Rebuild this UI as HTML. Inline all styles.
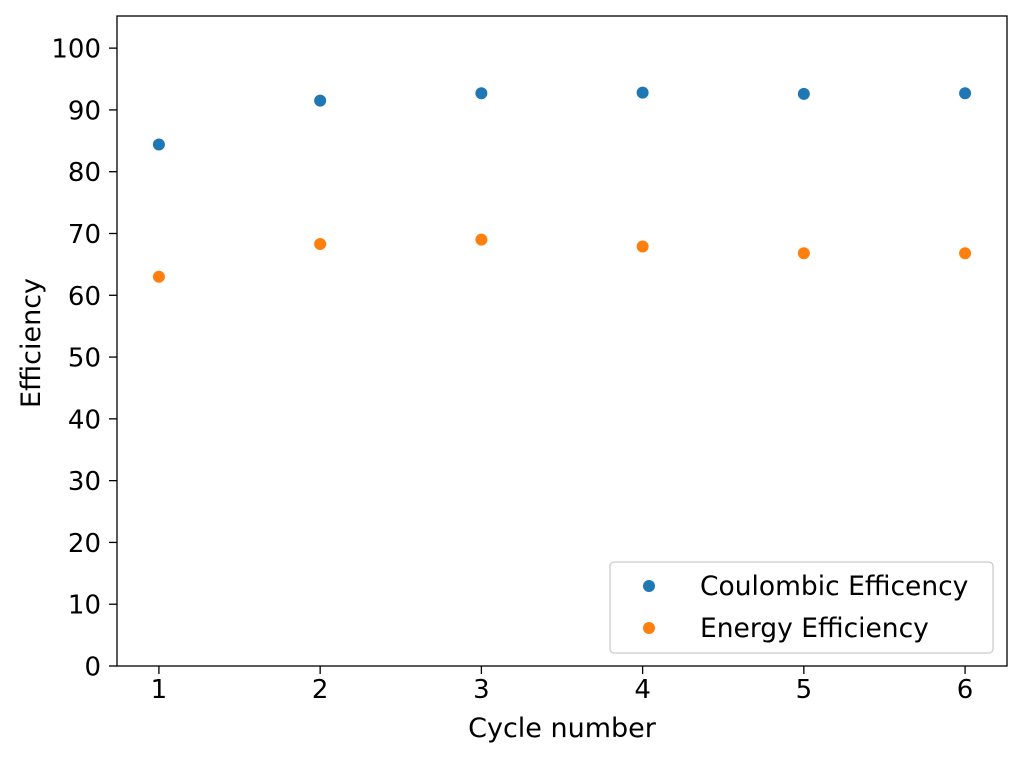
<!DOCTYPE html>
<html><head><meta charset="utf-8"><style>
body{margin:0;background:#fff;}
svg text{font-family:"DejaVu Sans","Liberation Sans",sans-serif;fill:#000;}
</style></head><body>
<svg id="chart" width="1024" height="758" xmlns="http://www.w3.org/2000/svg">
<g id="plot"></g>
</svg>
<script>
const cycles=[1,2,3,4,5,6];
const coulombic=[84.4,91.5,92.7,92.8,92.6,92.7];
const energy=[63.0,68.3,69.0,67.9,66.8,66.8];
const yTicks=[0,10,20,30,40,50,60,70,80,90,100];
const xTicks=[1,2,3,4,5,6];
const L=117,R=1007,T=16,B=666;
const xMin=0.74,xMax=6.26,yMin=0,yMax=105.2;
const sx=v=>L+(v-xMin)/(xMax-xMin)*(R-L);
const sy=v=>B-(v-yMin)/(yMax-yMin)*(B-T);
const g=document.getElementById('plot');
const NS='http://www.w3.org/2000/svg';
function mk(tag,attrs,parent){const e=document.createElementNS(NS,tag);for(const k in attrs)e.setAttribute(k,attrs[k]);(parent||g).appendChild(e);return e;}
yTicks.forEach(t=>{const y=sy(t);
const l=mk('line',{x1:L-8,x2:L,y1:y,y2:y,stroke:'#000','stroke-width':1.3});


const tx=mk('text',{x:L-16,y:y+9.5,'text-anchor':'end','font-size':26});tx.textContent=t;

});
xTicks.forEach(t=>{const x=sx(t);
const l=mk('line',{x1:x,x2:x,y1:B,y2:B+8,stroke:'#000','stroke-width':1.3});


const tx=mk('text',{x:x,y:B+32,'text-anchor':'middle','font-size':26});tx.textContent=t;

});
cycles.forEach((c,i)=>{
const p=mk('circle',{cx:sx(c),cy:sy(coulombic[i]),r:6,fill:'#1f77b4'});


const q=mk('circle',{cx:sx(c),cy:sy(energy[i]),r:6,fill:'#ff7f0e'});

});
const fr=mk('rect',{x:L,y:T,width:R-L,height:B-T,fill:'none',stroke:'#000','stroke-width':1.3});


const xl=mk('text',{x:562,y:737,'text-anchor':'middle','font-size':27});xl.textContent='Cycle number';


const yl=mk('text',{x:0,y:0,'text-anchor':'middle','font-size':27,transform:'translate(40,343) rotate(-90)'});yl.textContent='Efficiency';


const lg=mk('g',{});


mk('rect',{x:610,y:562,width:383,height:91,rx:4,fill:'#fff',stroke:'#ccc','stroke-width':1.3},lg);
const e1=mk('circle',{cx:649,cy:586,r:6,fill:'#1f77b4'},lg);


const t1=mk('text',{x:700,y:595,'font-size':26.5},lg);t1.textContent='Coulombic Efficency';


const e2=mk('circle',{cx:649,cy:628,r:6,fill:'#ff7f0e'},lg);


const t2=mk('text',{x:700,y:637,'font-size':26.5},lg);t2.textContent='Energy Efficiency';


</script>
</body></html>
